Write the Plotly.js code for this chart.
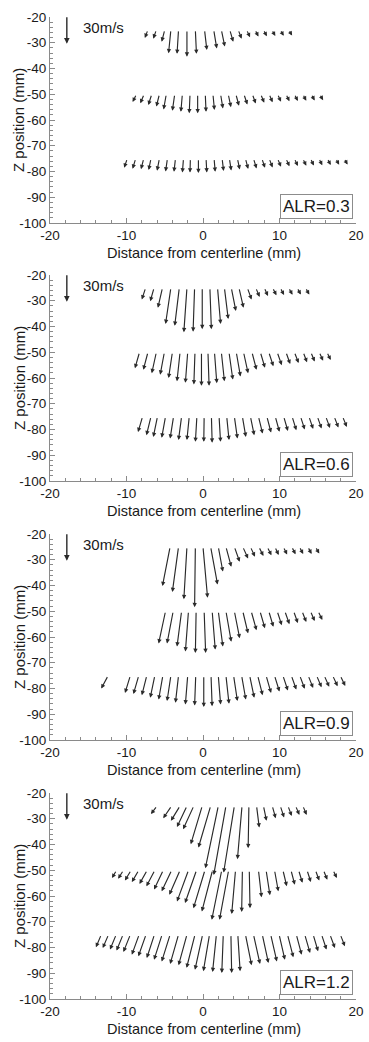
<!DOCTYPE html>
<html><head><meta charset="utf-8">
<script src="https://cdn.plot.ly/plotly-3.0.1.min.js"></script>
<style>html,body{margin:0;padding:0;background:#fff}#chart{width:369px;height:1042px}</style>
</head><body><div id="chart"></div>
<script>
// ---------------- data ----------------
// measurement planes (tail z of each row of vectors, mm)
const rowZ = [-25, -50, -75];
const panelLabels = ['ALR=0.3', 'ALR=0.6', 'ALR=0.9', 'ALR=1.2'];
const xTickVals = [-20, -10, 0, 10, 20];
const xTickText = ['-20', '-10', '0', '10', '20'];
const yTickVals = [-100, -90, -80, -70, -60, -50, -40, -30, -20];
const yTickText = ['-100', '-90', '-80', '-70', '-60', '-50', '-40', '-30', '-20'];
const refSpeed = 30; // m/s, reference vector
const refLabel = '30m/s';
const xTitle = 'Distance from centerline (mm)';
const yTitle = 'Z position (mm)';

// ALR = 0.3 : x (mm), u (m/s, radial), w (m/s, axial) per row
const p1_x = [
  [-7.2,-6.1,-5.0,-4.2,-3.2,-2.1,-1.0,0.2,1.4,2.4,3.5,4.6,5.7,6.8,7.9,9.0,10.1,11.2],
  [-8.7,-7.7,-6.7,-5.7,-4.8,-3.7,-2.7,-1.7,-0.7,0.3,1.3,2.3,3.3,4.3,5.35,6.45,7.55,8.65,9.75,10.85,11.95,13.05,14.15,15.25],
  [-9.9,-8.8,-7.75,-6.8,-5.7,-4.65,-3.6,-2.55,-1.65,-0.6,0.4,1.45,2.5,3.45,4.5,5.55,6.6,7.7,8.65,9.75,10.85,11.95,13.05,14.05,15.15,16.25,17.35,18.45]
];
const p1_u = [
  [-3.3,-3.3,-3.3,-2.5,-1.6,0,1.2,2.5,3.3,3.7,3.7,3.7,3.7,3.7,3.7,3.7,3.7,3.7],
  [-4.1,-4.1,-3.7,-3.3,-2.9,-2.5,-1.6,-0.8,0,0.8,1.6,2.5,2.9,3.3,3.7,3.7,3.7,3.7,3.7,3.7,3.7,3.7,3.7,3.7],
  [-3.3,-3.3,-2.9,-2.5,-2.5,-2,-1.6,-1.2,-0.4,0,0.8,1.2,1.6,2,2.5,2.9,3.3,3.3,3.7,3.7,3.7,3.7,3.7,3.7,3.7,3.7,3.7,3.7]
];
const p1_w = [
  [-8.6,-9.4,-12.7,-25.1,-25.7,-28.7,-25.7,-21.5,-19.9,-17.9,-12.7,-9.4,-8.0,-7.2,-6.9,-6.6,-6.4,-6.1],
  [-8.3,-9.7,-11.6,-13.2,-16.3,-17.7,-18.8,-20.4,-20.4,-18.8,-16.8,-15.2,-13.8,-12.4,-11,-9.9,-9.1,-8.6,-8.0,-7.5,-7.2,-6.9,-6.6,-6.3],
  [-9.7,-10.8,-11.3,-12.1,-13,-13.8,-14.1,-14.9,-14.9,-15.5,-14.9,-14.1,-13.2,-12.7,-11.6,-11,-10.5,-9.9,-9.4,-8.8,-8.3,-8,-7.7,-7.4,-7.2,-6.9,-6.6,-6.4]
];

// ALR = 0.6
const p2_x = [
  [-7.5,-6.4,-5.3,-4.2,-3.1,-2.1,-1.1,-0.1,0.9,1.9,2.8,3.7,4.7,5.8,6.9,8.0,9.1,10.1,11.2,12.3,13.4],
  [-8.3,-7.2,-6.1,-5.05,-4.0,-3.0,-2.0,-1.05,-0.2,0.65,1.5,2.4,3.4,4.35,5.3,6.4,7.5,8.6,9.7,10.85,11.95,13.1,14.1,15.2,16.2],
  [-7.9,-6.8,-5.95,-4.9,-3.85,-2.8,-1.8,-0.8,0.15,1.1,2.1,3.1,4.1,5.15,6.2,7.25,8.35,9.45,10.55,11.65,12.75,13.85,14.95,16.05,17.15,18.25]
];
const p2_u = [
  [-4.1,-4.1,-4.9,-5.7,-4.9,-3.3,-1.6,0,1.6,3.3,4.1,4.9,4.9,4.5,4.1,4.1,4.1,4.1,4.1,4.1,4.1],
  [-4.9,-4.9,-4.9,-4.5,-4.1,-3.3,-2.5,-1.2,0,1.2,2.5,3.3,4.1,4.5,4.9,4.9,4.9,4.9,4.9,4.5,4.5,4.1,4.1,4.1,4.1],
  [-4.9,-4.9,-4.5,-4.1,-3.7,-3.3,-2.5,-1.6,-0.4,0.8,1.6,2.5,3.3,3.7,4.1,4.5,4.5,4.5,4.5,4.5,4.5,4.5,4.5,4.5,4.5,4.5]
];
const p2_w = [
  [-12.4,-14.4,-21.3,-38.6,-40.6,-47.5,-46.9,-44.2,-44.2,-38.6,-33.4,-24.8,-21.3,-12.4,-9.7,-8.6,-8.0,-7.7,-7.5,-7.2,-7.2],
  [-17.1,-18.8,-22.4,-24,-27.6,-31.2,-32.8,-34.5,-35.9,-35.9,-33.1,-31.2,-29.3,-25.9,-22.4,-18.8,-16.6,-14.9,-13.8,-12.7,-11.6,-10.8,-9.9,-9.1,-8.3],
  [-16.6,-19.9,-21.8,-22.6,-23.5,-25.1,-25.1,-27,-27,-27.9,-27,-25.1,-23.5,-21.8,-19.9,-18.2,-17.1,-16.3,-15.5,-14.6,-13.8,-13.2,-12.7,-12.1,-11.6,-11]
];

// ALR = 0.9
const p3_x = [
  [-4.3,-3.2,-2.1,-1.0,0.0,1.0,2.0,3.0,4.1,5.2,6.2,7.3,8.4,9.4,10.5,11.6,12.6,13.7,14.7],
  [-4.9,-3.9,-2.8,-1.9,-0.9,0.15,1.2,2.0,3.0,4.1,5.2,6.3,7.45,8.6,9.7,10.7,11.85,12.95,14.05,15.05],
  [-12.4,-9.5,-8.4,-7.35,-6.3,-5.25,-4.2,-3.2,-2.0,-0.95,0.1,1.05,2.0,3.0,4.0,5.05,6.1,7.15,8.25,9.35,10.45,11.55,12.65,13.75,14.85,15.85,16.95,17.95]
];
const p3_u = [
  [-8.2,-6.6,-3.3,-0.8,4.9,7.4,4.9,5.7,5.7,5.7,4.9,4.9,4.5,4.1,4.1,4.1,4.1,4.1,4.1],
  [-7.4,-6.6,-4.9,-3.3,-0.8,1.6,3.3,4.9,5.7,5.7,5.7,5.7,5.3,4.9,4.9,4.9,4.5,4.5,4.5,4.5],
  [-7.4,-5.7,-5.7,-5.3,-4.9,-4.5,-4.1,-3.3,-2.5,-1.2,0,1.2,2.5,3.3,4.1,4.5,4.9,5.3,5.3,5.3,5.3,5.3,5.3,5.3,5.3,5.3,5.3,5.3]
];
const p3_w = [
  [-42,-48.3,-56,-64.6,-54.4,-40.3,-26.5,-21.3,-16,-12.4,-10.5,-9.7,-9.1,-8.6,-8.3,-8,-7.7,-7.5,-7.2],
  [-34.5,-34.5,-37.8,-43.1,-44.7,-44.7,-41.1,-37.8,-32.6,-29,-23.7,-20.4,-18.2,-16.6,-14.9,-13.8,-12.7,-11.6,-10.5,-9.4],
  [-13.8,-18.5,-19.6,-21,-23.7,-25.7,-27.3,-29,-30.9,-32,-33.7,-32.8,-30.9,-30.1,-27.3,-25.7,-23.7,-21,-18.5,-17.1,-16,-14.9,-14.1,-13.2,-12.4,-11.9,-11.3,-11]
];

// ALR = 1.2
const p4_x = [
  [-6.0,-4.1,-3.0,-2.1,-1.2,-0.1,1.0,2.0,3.0,4.1,5.1,6.0,7.0,7.9,9.05,10.1,11.1,12.1,13.05],
  [-11.3,-10.4,-9.4,-8.4,-7.3,-6.3,-5.2,-4.1,-3.0,-1.9,-0.85,0.25,1.25,2.45,3.35,4.25,5.15,6.05,7.25,8.25,9.35,10.45,11.5,12.5,13.6,14.7,15.75,17.0],
  [-13.3,-12.35,-11.35,-10.45,-9.5,-8.35,-7.45,-6.35,-5.35,-4.3,-3.2,-2.1,-1.05,-0.05,0.85,1.75,2.65,3.65,4.55,5.55,6.6,7.75,8.85,9.95,11.05,12.2,13.3,14.4,15.5,16.6,17.95]
];
const p4_u = [
  [-6.6,-9,-9.8,-10.7,-11.5,-12.3,-13.1,-13.9,-13.1,-11.5,-4.9,-0.8,2.9,3.3,3.7,4.1,4.1,4.1,4.1],
  [-4.9,-5.7,-6.6,-7.4,-8.2,-9,-9.8,-10.7,-11.5,-12.3,-12.3,-12.3,-11.5,-10.7,-9.8,-4.1,-0.8,0.8,3.3,4.1,4.1,4.1,4.1,4.1,4.1,4.1,4.1,4.1],
  [-5.7,-6.2,-6.6,-7,-7.4,-7.8,-8.2,-8.2,-8.6,-9,-9,-9,-9,-8.2,-6.6,-4.1,-1.6,0.8,2.5,6.6,7,6.6,6.6,6.2,6.2,5.7,5.7,5.3,5.3,5.3,4.9]
];
const p4_w = [
  [-8.8,-13.2,-16,-22.6,-25.1,-41.1,-44.7,-66.8,-74,-71.5,-57.1,-45.3,-23.2,-16,-13.2,-12.4,-10.8,-9.7,-9.7],
  [-8.3,-9.1,-11,-12.7,-14.6,-17.1,-20.7,-22.6,-26.2,-33.4,-35.1,-40.6,-44.2,-53,-53,-46.9,-44.7,-40.6,-29,-26.8,-22.6,-17.1,-15.5,-13.5,-12.7,-11,-10.2,-8.3],
  [-13.5,-14.4,-16,-17.1,-18.5,-21.5,-23.2,-25.1,-26.8,-28.7,-31.5,-32.8,-35.6,-37.5,-39.2,-40,-41.1,-41.1,-39.2,-32.8,-31.5,-30.4,-28.7,-26.8,-24.3,-21.5,-19.6,-17.9,-16,-14.4,-12.4]
];

// ---------------- layout geometry ----------------
const FIG_W = 369, FIG_H = 1042;
const M_L = 50, M_R = 13, M_T = 17;
const PANEL_H = 206;
const panelTopPx = [17, 275, 534, 793];
const M_B = FIG_H - (panelTopPx[3] + PANEL_H);
const plotW = FIG_W - M_L - M_R;
const plotH = FIG_H - M_T - M_B;
const X_RANGE = [-20, 20], Y_RANGE = [-100, -20];
const pxPerMmX = plotW / (X_RANGE[1] - X_RANGE[0]);
const pxPerMmY = PANEL_H / (Y_RANGE[1] - Y_RANGE[0]);
const PX_PER_MS = 28 / 30;           // arrow length in px per m/s
const SX = PX_PER_MS / pxPerMmX;     // mm of x per m/s
const SZ = PX_PER_MS / pxPerMmY;     // mm of z per m/s

const panels = [
  {x: p1_x, u: p1_u, w: p1_w},
  {x: p2_x, u: p2_u, w: p2_w},
  {x: p3_x, u: p3_u, w: p3_w},
  {x: p4_x, u: p4_u, w: p4_w}
];

const FONT = 'Liberation Sans, Arial, sans-serif';
const TXT = '#1a1a1a';
const AX = '#8a8a8a';
const ARROW = '#2a2a2a';

function px2paperX(px) { return (px - M_L) / plotW; }
function px2paperY(py) { return 1 - (py - M_T) / plotH; }

const layout = {
  width: FIG_W, height: FIG_H,
  margin: {l: M_L, r: M_R, t: M_T, b: M_B, pad: 0},
  paper_bgcolor: '#ffffff', plot_bgcolor: '#ffffff',
  showlegend: false,
  font: {family: FONT, color: TXT, size: 13},
  annotations: []
};

const traces = [];
panels.forEach((p, i) => {
  const s = i === 0 ? '' : String(i + 1);
  const xa = 'xaxis' + s, ya = 'yaxis' + s;
  const top = panelTopPx[i], bot = top + PANEL_H;
  layout[xa] = {
    domain: [0, 1], anchor: 'y' + s, range: X_RANGE,
    tickmode: 'array', tickvals: xTickVals, ticktext: xTickText,
    ticks: 'inside', ticklen: 5, tickwidth: 1, tickcolor: AX,
    minor: {dtick: 2, ticks: 'inside', ticklen: 3, tickcolor: AX, showgrid: false},
    showline: true, linecolor: AX, linewidth: 1, zeroline: false,
    showgrid: false, fixedrange: true,
    tickfont: {family: FONT, size: 13.5, color: TXT}
  };
  layout[ya] = {
    domain: [px2paperY(bot), px2paperY(top)], anchor: 'x' + s, range: Y_RANGE,
    tickmode: 'array', tickvals: yTickVals, ticktext: yTickText,
    ticks: 'inside', ticklen: 5, tickwidth: 1, tickcolor: AX,
    minor: {dtick: 2, ticks: 'inside', ticklen: 3, tickcolor: AX, showgrid: false},
    showline: true, linecolor: AX, linewidth: 1, zeroline: false,
    showgrid: false, fixedrange: true,
    tickfont: {family: FONT, size: 13.5, color: TXT}
  };
  traces.push({x: [null], y: [null], xaxis: 'x' + s, yaxis: 'y' + s, type: 'scatter', mode: 'markers', hoverinfo: 'skip'});

  const xr = 'x' + s, yr = 'y' + s;
  const arrowBase = {
    xref: xr, yref: yr, axref: xr, ayref: yr, text: '', showarrow: true,
    arrowhead: 2, arrowsize: 0.75, arrowwidth: 1.15, arrowcolor: ARROW,
    standoff: 0, startstandoff: 0, font: {size: 1}
  };
  p.x.forEach((row, r) => {
    row.forEach((x0, k) => {
      const z0 = rowZ[r];
      layout.annotations.push(Object.assign({}, arrowBase, {
        ax: x0, ay: z0,
        x: x0 + p.u[r][k] * SX, y: z0 + p.w[r][k] * SZ
      }));
    });
  });
  layout.annotations.push(Object.assign({}, arrowBase, {
    ax: -17.8, ay: -19.5, x: -17.8, y: -19.5 - refSpeed * SZ, arrowwidth: 1.4, arrowsize: 0.8
  }));
  layout.annotations.push({
    xref: xr, yref: yr, x: -15.9, y: -24, xanchor: 'left', yanchor: 'middle',
    text: refLabel, showarrow: false, font: {family: FONT, size: 15, color: TXT}
  });
  layout.annotations.push({
    xref: xr, yref: yr, x: 19.6, y: -93.4, xanchor: 'right', yanchor: 'middle',
    text: panelLabels[i], showarrow: false, bgcolor: '#ffffff',
    bordercolor: '#8c8c8c', borderwidth: 1, borderpad: 2,
    font: {family: FONT, size: 17, color: TXT}
  });
  layout.annotations.push({
    xref: 'paper', yref: 'paper', x: px2paperX(204), y: px2paperY(bot + 30),
    xanchor: 'center', yanchor: 'middle', showarrow: false,
    text: xTitle, font: {family: FONT, size: 14.5, color: TXT}
  });
  layout.annotations.push({
    xref: 'paper', yref: 'paper', x: px2paperX(19), y: px2paperY(top + 103),
    xanchor: 'center', yanchor: 'middle', showarrow: false, textangle: -90,
    text: yTitle, font: {family: FONT, size: 15, color: TXT}
  });
});

Plotly.newPlot('chart', traces, layout, {displayModeBar: false, staticPlot: true});
</script>
</body></html>
